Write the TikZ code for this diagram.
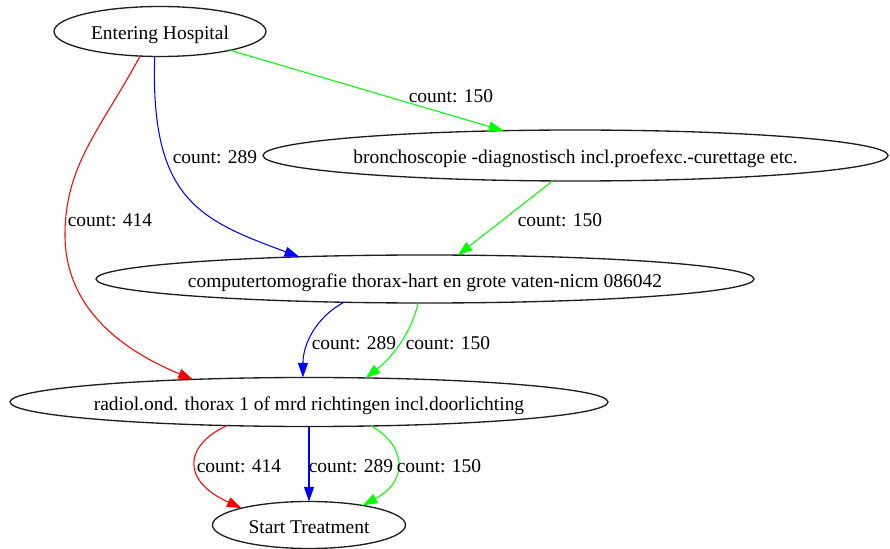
\documentclass[tikz,border=0pt]{standalone}
\usepackage{fontspec}
\setmainfont{Liberation Serif}
\usetikzlibrary{shapes.geometric,arrows.meta}
\definecolor{edgered}{RGB}{255,0,0}
\definecolor{edgeblue}{RGB}{0,0,255}
\definecolor{edgegreen}{RGB}{0,255,0}
\definecolor{outline}{RGB}{30,30,30}
\begin{document}
\begin{tikzpicture}[x=0.75pt,y=-0.75pt,
  txt/.style={inner sep=0pt,font=\fontsize{14.6}{17}\selectfont,text height=0.95em,text depth=0pt},
  state/.style={ellipse,draw=outline,line width=1pt,inner sep=0pt,outer sep=0pt,
    label={[txt,yshift=-1.5pt]center:#1}},
  lbl/.style={txt},
  flow/.style={line width=0.8pt,-{Triangle[length=11pt,width=7.5pt]}},
]
\useasboundingbox (0,0) rectangle (890,549);

% activities (ellipse size fixed, name set as centred label)
\node[state={Entering Hospital},minimum width=159pt,minimum height=37.5pt] (EH) at (160,31.5) {};
\node[state={bronchoscopie -diagnostisch incl.proefexc.-curettage etc.},
  minimum width=468.75pt,minimum height=38.25pt] (BR) at (575.5,155.5) {};
\node[state={computertomografie thorax-hart en grote vaten-nicm 086042},
  minimum width=493.5pt,minimum height=36pt] (CT) at (425,279) {};
\node[state={radiol.ond. thorax 1 of mrd richtingen incl.doorlichting},
  minimum width=448.5pt,minimum height=36.75pt] (RD) at (309,402) {};
\node[state={Start Treatment},minimum width=144.75pt,minimum height=35.25pt] (ST) at (309,525) {};

% transitions
\draw[flow,edgegreen] (EH.-15.6) -- (BR.161.9);
\draw[flow,edgeblue] (EH.-102) .. controls (150,200) and (200,220) .. (CT.170.8);
\coordinate (redmid) at (65,235);
\draw[flow,edgered] (EH.-129) .. controls (100,130) and (65,165) .. (redmid)
  .. controls (65,300) and (110,345) .. (RD.169.5);
\draw[flow,edgegreen] (BR.-132.8) -- (CT.36.7);
\draw[flow,edgeblue] (CT.-164.9) .. controls (315,318) and (303,345) .. (RD.104);
\draw[flow,edgegreen] (CT.-106.3) .. controls (412,330) and (395,355) .. (RD.23.6);
\draw[flow,edgered] (RD.-164.7) .. controls (185,445) and (180,480) .. (ST.166.8);
\draw[flow,edgeblue] (RD.south) -- (ST.north);
\draw[flow,edgegreen] (RD.-21.8) .. controls (405,445) and (410,480) .. (ST.20.1);

% counts
\node[lbl] (l1) at (451,96) {count: 150};
\node[lbl] (l2) at (215,157) {count: 289};
\node[lbl] (l3) at (110,220) {count: 414};
\node[lbl] (l4) at (560,220) {count: 150};
\node[lbl] (l5) at (354,343) {count: 289};
\node[lbl] (l6) at (448,343) {count: 150};
\node[lbl] (l7) at (239,466) {count: 414};
\node[lbl] (l8) at (351,466) {count: 289};
\node[lbl] (l9) at (439,466) {count: 150};
\end{tikzpicture}
\end{document}
